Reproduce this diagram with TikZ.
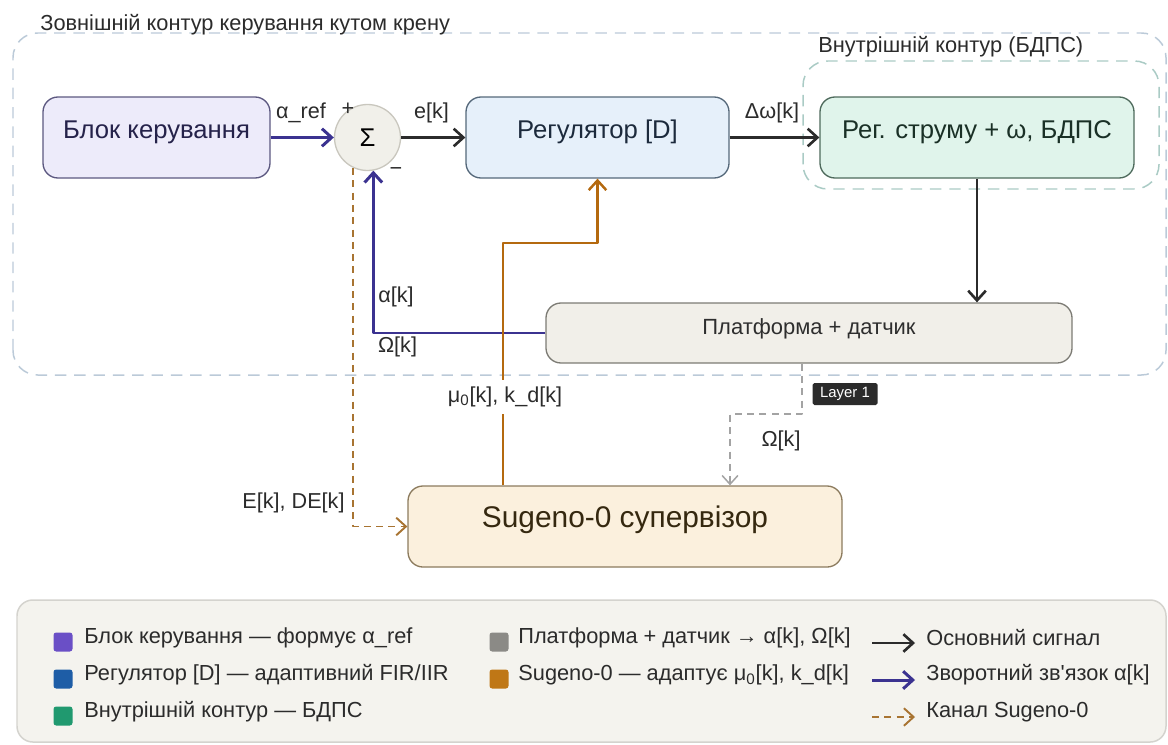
\documentclass[tikz,border=0pt]{standalone}
\usepackage{fontspec}
\setmainfont{Liberation Sans}[Ligatures=TeXOff]
\usetikzlibrary{arrows.meta}

\definecolor{ctrlfill}{HTML}{EDEBFA}
\definecolor{ctrldraw}{HTML}{5C5880}
\definecolor{ctrltext}{HTML}{25224A}
\definecolor{regfill}{HTML}{E6F0FA}
\definecolor{regdraw}{HTML}{55687A}
\definecolor{regtext}{HTML}{1C2A3C}
\definecolor{curfill}{HTML}{E0F4EB}
\definecolor{curdraw}{HTML}{4E6A5C}
\definecolor{curtext}{HTML}{1A3026}
\definecolor{platfill}{HTML}{F1EFE9}
\definecolor{platdraw}{HTML}{7C7B74}
\definecolor{plattext}{HTML}{2E2E2E}
\definecolor{sugfill}{HTML}{FBF0DD}
\definecolor{sugdraw}{HTML}{8C7B5E}
\definecolor{sugtext}{HTML}{35280F}
\definecolor{sumfill}{HTML}{F1F0EA}
\definecolor{sumdraw}{HTML}{C9C7BE}
\definecolor{mainline}{HTML}{2B2B2B}
\definecolor{fbline}{HTML}{3B3290}
\definecolor{adaptline}{HTML}{B4690F}
\definecolor{chanline}{HTML}{A87432}
\definecolor{omline}{HTML}{A3A3A3}
\definecolor{outerframe}{HTML}{BBCAD8}
\definecolor{innerframe}{HTML}{AACBC5}
\definecolor{labeltext}{HTML}{2B2B2B}
\definecolor{legfill}{HTML}{F4F3EE}
\definecolor{legdraw}{HTML}{D4D3CE}
\definecolor{badge}{HTML}{2B2B2B}
\definecolor{sqctrl}{HTML}{6A4FC6}
\definecolor{sqreg}{HTML}{1E5DA6}
\definecolor{sqcur}{HTML}{20996F}
\definecolor{sqplat}{HTML}{8B8A86}
\definecolor{sqsug}{HTML}{BF7716}

\tikzset{
  box/.style={draw, rounded corners=8.5pt, line width=0.75pt, inner sep=0pt,
    minimum height=1.62cm, text height=0.7em, text depth=0.55em,
    font=\fontsize{14.6}{17}\selectfont},
  lbl/.style={font=\fontsize{12.3}{14}\selectfont, text=labeltext, inner sep=1pt},
  sig/.style={-{Straight Barb[length=5.5pt,width=10pt]}, line width=1.5pt, draw=mainline},
  fb/.style={sig, draw=fbline, line width=1.7pt},
  adapt/.style={sig, draw=adaptline, line width=1.4pt},
  chan/.style={sig, draw=chanline, line width=1.1pt, dash pattern=on 4pt off 3pt},
  omega/.style={-{Straight Barb[length=5pt,width=9pt]}, draw=omline, line width=0.85pt,
    dash pattern=on 4pt off 3pt},
  contour/.style={rounded corners=14pt, line width=0.85pt, dash pattern=on 6.5pt off 4.5pt},
  legtext/.style={anchor=west, font=\fontsize{12.4}{14}\selectfont, text=labeltext, inner sep=0pt},
  legsq/.style={rounded corners=1.5pt, minimum size=0.38cm, inner sep=0pt},
}

\begin{document}
\begin{tikzpicture}[line join=round]
  \useasboundingbox (0,0) rectangle (23.36,14.88);

  % outer and inner loops
  \draw[contour, draw=outerframe] (0.26,7.38) rectangle (23.32,14.22);
  \node[anchor=west, font=\fontsize{12.4}{14}\selectfont, text=labeltext, inner sep=0pt] (outertitle) at (0.80,14.38) {Зовнішній контур керування кутом крену};
  \draw[contour, draw=innerframe] (16.06,11.10) rectangle (23.18,13.66);
  \node[anchor=west, font=\fontsize{12.4}{14}\selectfont, text=labeltext, inner sep=0pt] (innertitle) at (16.36,13.94) {Внутрішній контур (БДПС)};

  % blocks
  \node[box, fill=ctrlfill, draw=ctrldraw, text=ctrltext, minimum width=4.54cm] (ctrl) at (3.13,12.13) {Блок керування};
  \node[circle, fill=sumfill, draw=sumdraw, line width=0.75pt, minimum size=1.32cm, inner sep=0pt, font=\fontsize{14.6}{17}\selectfont] (sum) at (7.35,12.13) {Σ};
  \node[box, fill=regfill, draw=regdraw, text=regtext, minimum width=5.26cm] (reg) at (11.95,12.13) {Регулятор [D]};
  \node[box, fill=curfill, draw=curdraw, text=curtext, minimum width=6.28cm] (cur) at (19.54,12.13) {Рег. струму + ω, БДПС};
  \node[box, fill=platfill, draw=platdraw, text=plattext, minimum width=10.52cm, minimum height=1.20cm, font=\fontsize{12.5}{14}\selectfont] (plat) at (16.18,8.22) {Платформа + датчик};
  \node[box, fill=sugfill, draw=sugdraw, text=sugtext, minimum width=8.68cm, font=\fontsize{17}{20}\selectfont] (sug) at (12.50,4.35) {Sugeno-0 супервізор};

  % signal paths
  \draw[fb] (ctrl.east) -- (sum.west);
  \draw[sig] (sum.east) -- (reg.west);
  \draw[sig] (reg.east) -- (cur.west);
  \draw[sig] (cur.south) -- (cur.south |- plat.north);
  \draw[fb] (plat.west) -| (sum.-80);
  \draw[chan] (sum.-115) |- (sug.west);
  \coordinate (kink) at (10.06,10.02);
  \draw[adapt] (sug.north -| kink) -- (kink) -| (reg.south);
  \coordinate (omtap) at (16.04,6.60);
  \coordinate (omdrop) at (14.60,6.60);
  \draw[omega] (plat.south -| omtap) -- (omtap) -- (omdrop) -- (omdrop |- sug.north);

  % signal labels
  \node[lbl] (aref) at (6.02,12.62) {α\_ref};
  \node[lbl] (plus) at (6.96,12.70) {+};
  \node[lbl] (ek) at (8.63,12.62) {e[k]};
  \node[lbl] (minus) at (7.92,11.44) {−};
  \node[lbl] (dw) at (15.44,12.62) {Δω[k]};
  \node[lbl] (alk) at (7.92,8.94) {α[k]};
  \node[lbl] (omk) at (7.95,7.94) {Ω[k]};
  \node[lbl, fill=white, inner ysep=4pt] (mu) at (10.10,6.94) {μ\textsubscript{0}[k], k\_d[k]};
  \node[lbl] (omk2) at (15.62,6.06) {Ω[k]};
  \node[lbl] (edk) at (5.87,4.82) {E[k], DE[k]};
  \node[fill=badge, text=white, rounded corners=1pt, minimum width=1.30cm, minimum height=0.44cm, inner sep=0pt, font=\fontsize{8.5}{10}\selectfont] (layer) at (16.90,7.00) {Layer 1};

  % legend
  \draw[rounded corners=9pt, fill=legfill, draw=legdraw, line width=0.85pt] (0.34,0.04) rectangle (23.32,2.88);
  \node[legsq, fill=sqctrl] (sq1) at (1.26,2.04) {};
  \node[legtext] (lg1) at (1.68,2.12) {Блок керування — формує α\_ref};
  \node[legsq, fill=sqreg] (sq2) at (1.26,1.30) {};
  \node[legtext] (lg2) at (1.68,1.38) {Регулятор [D] — адаптивний FIR/IIR};
  \node[legsq, fill=sqcur] (sq3) at (1.26,0.56) {};
  \node[legtext] (lg3) at (1.68,0.64) {Внутрішній контур — БДПС};
  \node[legsq, fill=sqplat] (sq4) at (9.98,2.04) {};
  \node[legtext] (lg4) at (10.36,2.12) {Платформа + датчик → α[k], Ω[k]};
  \node[legsq, fill=sqsug] (sq5) at (9.98,1.30) {};
  \node[legtext] (lg5) at (10.36,1.38) {Sugeno-0 — адаптує μ\textsubscript{0}[k], k\_d[k]};
  \node[legtext] (lg6) at (18.52,2.12) {Основний сигнал};
  \node[legtext] (lg7) at (18.52,1.38) {Зворотний зв'язок α[k]};
  \node[legtext] (lg8) at (18.52,0.64) {Канал Sugeno-0};
  \draw[sig] ([xshift=-1.08cm,yshift=-0.1cm]lg6.west) -- ([xshift=-0.22cm,yshift=-0.1cm]lg6.west);
  \draw[fb] ([xshift=-1.08cm,yshift=-0.1cm]lg7.west) -- ([xshift=-0.22cm,yshift=-0.1cm]lg7.west);
  \draw[chan] ([xshift=-1.08cm,yshift=-0.1cm]lg8.west) -- ([xshift=-0.22cm,yshift=-0.1cm]lg8.west);
\end{tikzpicture}
\end{document}
